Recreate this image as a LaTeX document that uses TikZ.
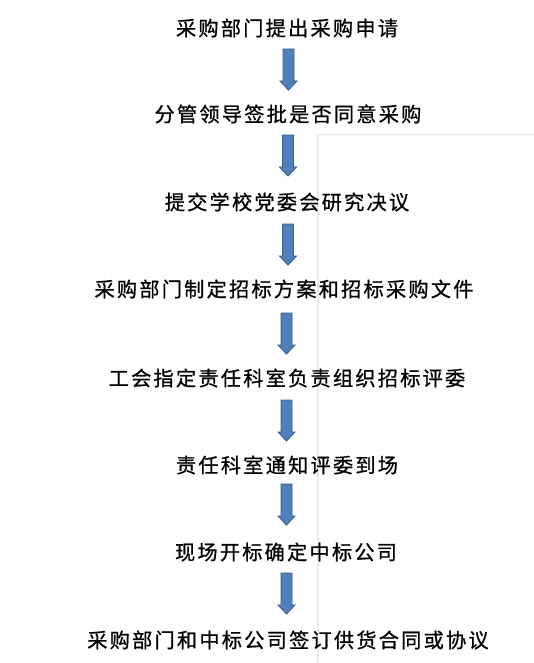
\documentclass[tikz,border=0pt]{standalone}
\usepackage{fontspec}
\newfontfamily\cjk[LetterSpace=11,FakeBold=0.8]{Noto Sans CJK SC}
\definecolor{arrowfill}{RGB}{79,129,189}
\definecolor{arrowline}{RGB}{56,93,138}
\definecolor{shadowgray}{RGB}{234,234,234}
\begin{document}
\begin{tikzpicture}[x=1pt,y=-1pt,
  lbl/.style={font=\cjk\fontsize{20.2}{24}\selectfont, inner sep=0pt, anchor=center, text=black},
  blockarrow/.pic={\draw[draw=arrowline,fill=arrowfill,line width=0.9pt,line join=miter]
     (-5.5,0) -- (5.5,0) -- (5.5,32) -- (8.5,32) -- (0,41) -- (-8.5,32) -- (-5.5,32) -- cycle;}]
\useasboundingbox (0,0) rectangle (534,663);
% faint page-edge shadow
\draw[shadowgray, line width=1.6pt] (318,663) -- (318,134.5) -- (534,134.5);
% steps
\node[lbl] (t1) at (287,28)  {采购部门提出采购申请};
\node[lbl] (t2) at (288,114) {分管领导签批是否同意采购};
\node[lbl] (t3) at (287,202) {提交学校党委会研究决议};
\node[lbl] (t4) at (284,289) {采购部门制定招标方案和招标采购文件};
\node[lbl] (t5) at (287,378) {工会指定责任科室负责组织招标评委};
\node[lbl] (t6) at (287,465) {责任科室通知评委到场};
\node[lbl] (t7) at (286,552) {现场开标确定中标公司};
\node[lbl] (t8) at (288,640) {采购部门和中标公司签订供货合同或协议};
% arrows
\pic (a1) at (288.5,49)  {blockarrow};
\pic (a2) at (288,135)   {blockarrow};
\pic (a3) at (288,224)   {blockarrow};
\pic (a4) at (286.5,313) {blockarrow};
\pic (a5) at (286.5,400) {blockarrow};
\pic (a6) at (286.5,484) {blockarrow};
\pic (a7) at (286.5,573) {blockarrow};
\end{tikzpicture}
\end{document}
